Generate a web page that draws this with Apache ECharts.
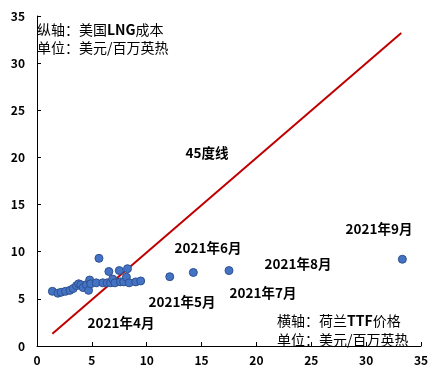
<!DOCTYPE html>
<html><head><meta charset="utf-8">
<script src="https://cdn.jsdelivr.net/npm/echarts@6/dist/echarts.min.js"></script>
<style>html,body{margin:0;padding:0;background:#fff}#c{width:447px;height:383px}</style>
</head><body><div id="c"></div>
<script>
// TTF price (x) vs US LNG cost (y), USD/MMBtu
const ttf = [1.4,1.9,2.2,2.6,3.0,3.3,3.6,3.8,4.0,4.2,4.5,4.7,4.8,4.9,5.4,5.65,6.0,6.4,6.55,6.7,6.9,7.1,7.5,7.6,7.9,8.15,8.25,8.4,9.0,9.45,12.1,14.25,17.5,33.3];
const lng = [5.8,5.6,5.7,5.8,5.9,6.1,6.4,6.6,6.5,6.2,6.5,5.9,7.0,6.6,6.7,9.3,6.7,6.7,7.9,6.7,7.1,6.7,8.0,6.8,6.8,7.3,8.2,6.7,6.8,6.9,7.35,7.8,8.0,9.2];
const line45 = [[1.4,1.3],[33.2,33.2]];
const xTicks = [0,5,10,15,20,25,30,35];
const yTicks = [0,5,10,15,20,25,30,35];
const monthLabels = ['2021年4月','2021年5月','2021年6月','2021年7月','2021年8月','2021年9月'];

const FONT = '"Noto Sans CJK SC","Noto Sans",sans-serif';
const chart = echarts.init(document.getElementById('c'));
const pts = ttf.map((v,i)=>[v,lng[i]]);
const monthPos = [[121,323],[182,302],[208,248],[263,293],[298,264],[379,229]];
const graphics = monthLabels.map((s,i)=>({type:'text',x:monthPos[i][0],y:monthPos[i][1],style:{text:s,font:'bold 13.5px '+FONT,fill:'#000',align:'center',verticalAlign:'middle'}}));
graphics.push({type:'text',x:207,y:153,style:{text:'45度线',font:'bold 13.5px '+FONT,fill:'#000',align:'center',verticalAlign:'middle'}});
const mkRich = lh => ({r:{fontFamily:FONT,fontSize:14,lineHeight:lh,fill:'#000'},b:{fontFamily:FONT,fontSize:14,lineHeight:lh,fontWeight:'bold',fill:'#000'}});
graphics.push({type:'text',x:37,y:21,style:{text:'{r|纵轴：美国}{b|LNG}{r|成本}\n{r|单位：美元/百万英热}',rich:mkRich(18),fill:'#000'}});
graphics.push({type:'text',x:277,y:311,style:{text:'{r|横轴：荷兰}{b|TTF}{r|价格}\n{r|单位：美元/百万英热}',rich:mkRich(19),fill:'#000'}});

chart.setOption({
  animation:false,
  backgroundColor:'#fff',
  grid:{left:37,right:26,top:16,bottom:37,containLabel:false},
  xAxis:{type:'value',min:0,max:35,interval:5,
    axisLine:{lineStyle:{color:'#000',width:1}},
    axisTick:{inside:true,length:4,lineStyle:{color:'#000'}},
    axisLabel:{color:'#000',fontWeight:'bold',fontSize:12,fontFamily:FONT,margin:8},
    splitLine:{show:false}},
  yAxis:{type:'value',min:0,max:35,interval:5,
    axisLine:{show:true,lineStyle:{color:'#000',width:1}},
    axisTick:{show:true,inside:true,length:4,lineStyle:{color:'#000'}},
    axisLabel:{color:'#000',fontWeight:'bold',fontSize:12,fontFamily:FONT,margin:12},
    splitLine:{show:false}},
  series:[
    {type:'line',data:line45,symbol:'none',lineStyle:{color:'#C00000',width:2},z:2},
    {type:'scatter',data:pts,symbolSize:8,itemStyle:{color:'#4472C4',borderColor:'#2F528F',borderWidth:1,opacity:1},z:3}
  ],
  graphic:graphics
});
</script></body></html>
